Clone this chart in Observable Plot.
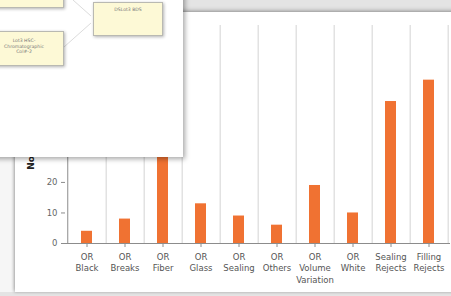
<!DOCTYPE html>
<html>
<head>
<meta charset="utf-8">
<script src="https://cdn.jsdelivr.net/npm/d3@7"></script>
<script src="https://cdn.jsdelivr.net/npm/@observablehq/plot@0.6"></script>
<style>
  html, body { margin: 0; padding: 0; }
  body { width: 451px; height: 296px; overflow: hidden; background: #e4e4e4; position: relative; font-family: "DejaVu Sans", Verdana, sans-serif; }
  #leftfill { position: absolute; left: 0; top: 0; width: 15px; height: 292px; background: #f6f6f6; }
  #panel { position: absolute; left: 15px; top: 12px; width: 450px; height: 280px; background: #fff; box-shadow: -1px 0 3px rgba(0,0,0,0.25), 0 -2px 4px rgba(0,0,0,0.2); }
  #panel svg { position: absolute; left: 0; top: 0; }
  #popup { position: absolute; left: -10px; top: -10px; width: 193px; height: 167px; background: #fff; box-shadow: 2px 2px 5px rgba(0,0,0,0.35); z-index: 5; }
  .node { position: absolute; background: #fdf9d6; border: 1px solid #b9b9b2; box-shadow: 1px 1px 3px rgba(0,0,0,0.3); font-size: 4.6px; color: #777; text-align: center; line-height: 1.25; }
  #links { position: absolute; left: 0; top: 0; }
</style>
</head>
<body>
<div id="leftfill"></div>
<div id="panel"></div>
<div id="popup">
  <svg id="links" width="193" height="167">
    <line x1="83" y1="10" x2="101" y2="26" stroke="#dcdcdc" stroke-width="1"/>
    <line x1="74" y1="57" x2="101" y2="33" stroke="#dcdcdc" stroke-width="1"/>
  </svg>
  <div class="node" style="left:-8px; top:-20px; width:80px; height:36px;"></div>
  <div class="node" style="left:103px; top:12px; width:70px; height:34px; padding-top:4px; box-sizing:border-box;">DSLot3 BDS</div>
  <div class="node" style="left:-6px; top:41px; width:80px; height:35px; padding-top:6px; box-sizing:border-box;">Lot3 HSC-<br>Chromatographic<br>Col#-2</div>
</div>
<script>
const categories = ["OR Black", "OR Breaks", "OR Fiber", "OR Glass", "OR Sealing", "OR Others", "OR Volume Variation", "OR White", "Sealing Rejects", "Filling Rejects"];
const values = [4, 8, 33, 13, 9, 6, 19, 10, 46.5, 53.5];
const yTicks = [0, 10, 20, 30, 40, 50, 60, 70];
const yLabel = "No. of Rejects";

const data = categories.map((c, i) => ({category: c, value: values[i]}));

const W = 436, H = 280, mL = 50, mR = 1, mT = 13, mB = 49;
const step = (W - mL - mR) / categories.length;

const chart = Plot.plot({
  width: W,
  height: H,
  marginLeft: mL,
  marginRight: mR,
  marginTop: mT,
  marginBottom: mB,
  style: {fontFamily: "DejaVu Sans, Verdana, sans-serif", fontSize: "8.5px", background: "transparent", color: "#555"},
  x: {domain: categories, paddingInner: 0.71, paddingOuter: 0.355, axis: null},
  y: {domain: [0, 71.4], axis: null},
  marks: [
    Plot.ruleX(categories, {x: d => d, dx: step / 2, stroke: "#e2e2e2", strokeWidth: 1.5}),
    Plot.ruleX([categories[0]], {x: d => d, dx: -step / 2, stroke: "#8c8c8c", strokeWidth: 1}),
    Plot.barY(data, {x: "category", y: "value", fill: "#f07232"}),
    Plot.ruleY([0], {stroke: "#8c8c8c", strokeWidth: 1}),
    Plot.axisX({tickSize: 4, tickPadding: 4, stroke: "#8c8c8c", fill: "#555", lineHeight: 1.35, tickFormat: d => d.split(" ").join("\n"), label: null}),
    Plot.axisY({ticks: yTicks, tickSize: 4, tickPadding: 4, stroke: "#8c8c8c", fill: "#666", label: null}),
    Plot.text([yLabel], {frameAnchor: "left", textAnchor: "middle", dx: -34, rotate: -90, text: d => d, fontWeight: "bold", fill: "#222", fontSize: 9})
  ]
});
document.getElementById("panel").appendChild(chart);
</script>
</body>
</html>
